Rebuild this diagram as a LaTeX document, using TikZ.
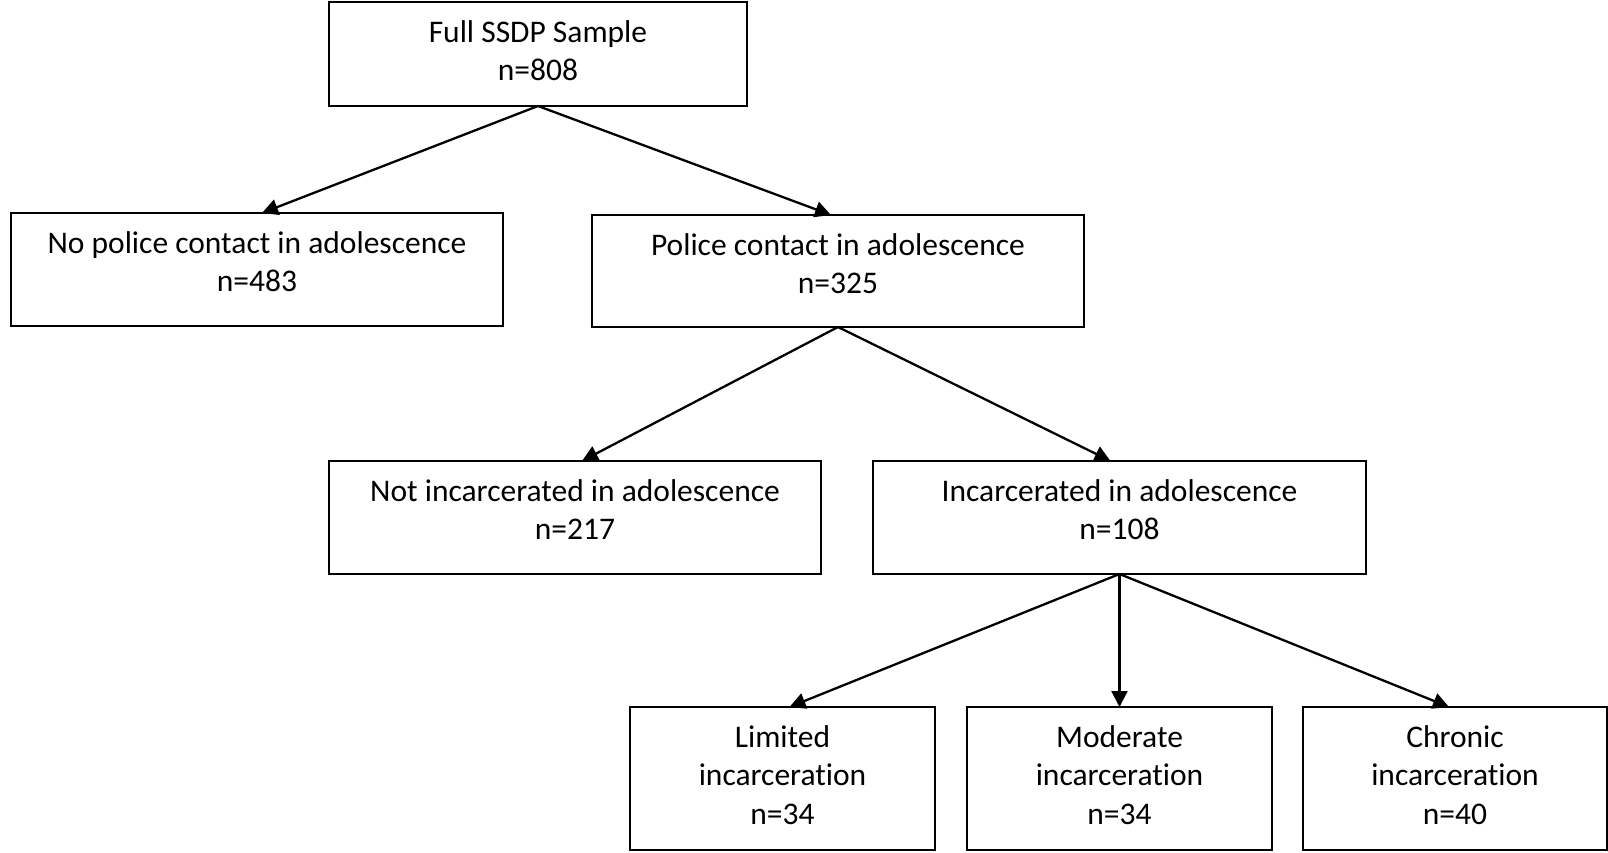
\documentclass[tikz,border=0pt]{standalone}
\usepackage{fontspec}
\setmainfont{Carlito}[Ligatures=NoCommon,Contextuals=NoAlternate]
\usetikzlibrary{arrows.meta}
\newcommand\bxt[3]{\parbox[c][#2][t]{#1}{\centering\rule{0pt}{40pt}#3}}
\begin{document}
\begin{tikzpicture}[x=1pt,y=-1pt,
  box/.style={draw=black, line width=1.8pt, inner sep=0pt, outer sep=0pt, anchor=north west,
    font=\fontsize{31.5}{38.5}\selectfont},
  conn/.style={draw=black, line width=2.3pt, -{Triangle[length=16pt,width=16pt]}}]
\useasboundingbox (0,0) rectangle (1608,852);
\node[box] (b1) at (329,2) {\bxt{418pt}{104pt}{Full SSDP Sample\\n=808}};
\node[box] (b2) at (11,213) {\bxt{492pt}{113pt}{No police contact in adolescence\\n=483}};
\node[box] (b3) at (592,215) {\bxt{492pt}{112pt}{Police contact in adolescence\\n=325}};
\node[box] (b4) at (329,461) {\bxt{492pt}{113pt}{Not incarcerated in adolescence\\n=217}};
\node[box] (b5) at (873,461) {\bxt{493pt}{113pt}{Incarcerated in adolescence\\n=108}};
\node[box] (b6) at (630,707) {\bxt{305pt}{143pt}{Limited\\incarceration\\n=34}};
\node[box] (b7) at (967,707) {\bxt{305pt}{143pt}{Moderate\\incarceration\\n=34}};
\node[box] (b8) at (1303,707) {\bxt{304pt}{143pt}{Chronic\\incarceration\\n=40}};
\draw[conn] (b1.south) -- ([xshift=5pt]b2.north);
\draw[conn] (b1.south) -- ([xshift=-7pt]b3.north);
\draw[conn] (b3.south) -- ([xshift=7pt]b4.north);
\draw[conn] (b3.south) -- ([xshift=-9pt]b5.north);
\draw[conn] (b5.south) -- ([xshift=7pt]b6.north);
\draw[conn] (b5.south) -- (b7.north);
\draw[conn] (b5.south) -- ([xshift=-6pt]b8.north);
\end{tikzpicture}
\end{document}
